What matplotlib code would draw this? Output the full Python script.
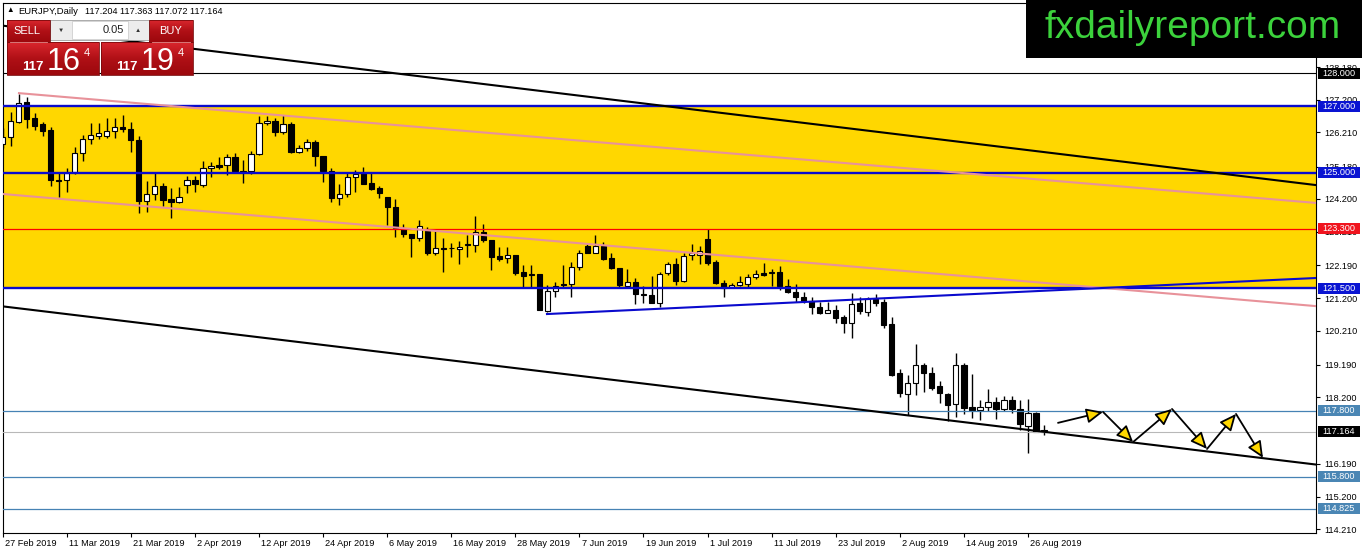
import matplotlib

matplotlib.use("Agg")
import matplotlib.pyplot as plt
import numpy as np
from matplotlib.colors import LinearSegmentedColormap
from matplotlib.patches import Rectangle
from matplotlib.transforms import ScaledTranslation, blended_transform_factory

plt.rcParams["font.family"] = ["Liberation Sans", "DejaVu Sans"]

# EURJPY daily candles, 27 Feb 2019 .. 28 Aug 2019
opens = [125.86, 126.07, 126.52, 127.12, 126.64, 126.46, 126.28, 124.77, 124.77, 125.01,
         125.58, 126.01, 126.10, 126.10, 126.25, 126.37, 126.31, 125.98, 124.13, 124.34,
         124.59, 124.19, 124.10, 124.62, 124.77, 124.62, 125.13, 125.22, 125.22, 125.46,
         125.04, 125.04, 125.55, 126.49, 126.55, 126.22, 126.46, 125.61, 125.73, 125.92,
         125.49, 125.04, 124.22, 124.34, 124.86, 124.98, 124.68, 124.53, 124.25, 123.95,
         123.32, 123.14, 123.02, 123.23, 122.56, 122.71, 122.71, 122.68, 122.80, 122.80,
         123.20, 122.95, 122.47, 122.41, 122.50, 121.99, 121.93, 121.93, 120.81, 121.41,
         121.63, 121.63, 122.14, 122.77, 122.56, 122.77, 122.41, 122.11, 121.57, 121.69,
         121.32, 121.29, 121.05, 121.96, 122.23, 121.72, 122.50, 122.50, 122.98, 122.29,
         121.66, 121.54, 121.60, 121.63, 121.84, 121.96, 121.96, 121.99, 121.57, 121.38,
         121.23, 121.11, 120.93, 120.75, 120.84, 120.63, 120.45, 121.05, 120.78, 121.17,
         121.08, 120.42, 118.94, 118.30, 118.63, 119.18, 118.94, 118.54, 118.30, 118.00,
         119.18, 117.91, 117.82, 117.91, 118.06, 117.85, 118.12, 117.85, 117.34, 117.73,
         117.204]
highs = [126.34, 126.82, 127.37, 127.27, 126.79, 126.52, 126.37, 124.98, 125.13, 125.76,
         126.13, 126.49, 126.49, 126.64, 126.64, 126.73, 126.52, 126.10, 124.74, 124.98,
         124.68, 124.53, 124.56, 124.89, 124.89, 125.34, 125.31, 125.46, 125.55, 125.58,
         125.37, 125.64, 126.70, 126.70, 126.64, 126.73, 126.52, 125.82, 126.01, 125.98,
         125.49, 125.13, 124.65, 125.01, 125.07, 125.16, 125.01, 124.59, 124.25, 124.19,
         123.44, 123.14, 123.56, 123.35, 123.23, 123.02, 122.86, 122.92, 123.11, 123.68,
         123.44, 122.95, 122.74, 122.74, 122.50, 122.20, 122.20, 121.93, 121.60, 121.69,
         122.20, 122.29, 122.65, 122.83, 123.11, 122.89, 122.56, 122.11, 122.08, 121.81,
         121.57, 121.87, 121.99, 122.29, 122.41, 122.56, 122.83, 122.77, 123.29, 122.35,
         121.75, 121.66, 121.87, 121.93, 122.05, 122.26, 122.08, 122.17, 121.78, 121.63,
         121.38, 121.23, 121.08, 121.08, 120.99, 120.69, 121.35, 121.23, 121.23, 121.32,
         121.17, 120.63, 119.06, 118.88, 119.81, 119.24, 119.12, 118.70, 118.33, 119.54,
         119.24, 118.91, 118.12, 118.45, 118.21, 118.24, 118.24, 118.12, 118.15, 117.76,
         117.363]
lows = [125.73, 125.80, 126.49, 126.34, 126.28, 126.10, 124.59, 124.25, 124.41, 124.95,
        125.34, 125.86, 126.01, 126.04, 126.04, 126.22, 125.61, 123.77, 123.80, 124.16,
        123.98, 123.62, 124.07, 124.38, 124.41, 124.56, 124.86, 125.10, 124.92, 125.04,
        124.68, 124.95, 125.52, 126.43, 126.10, 126.16, 125.58, 125.58, 125.64, 125.19,
        124.71, 124.10, 124.01, 124.25, 124.41, 124.65, 124.47, 124.22, 123.41, 123.05,
        123.05, 122.44, 122.92, 122.50, 122.50, 121.99, 122.44, 122.23, 122.44, 122.59,
        122.89, 122.05, 122.32, 122.26, 121.90, 121.53, 121.53, 120.84, 120.78, 121.23,
        121.53, 121.23, 122.05, 122.56, 122.56, 122.35, 122.08, 121.53, 121.53, 121.02,
        121.05, 121.05, 120.93, 121.90, 121.60, 121.69, 122.35, 122.23, 122.20, 121.63,
        121.23, 121.51, 121.57, 121.54, 121.78, 121.87, 121.57, 121.44, 121.35, 121.08,
        121.05, 120.72, 120.72, 120.75, 120.45, 120.15, 119.99, 120.72, 120.66, 120.96,
        120.30, 118.85, 118.21, 117.67, 118.27, 118.36, 118.42, 118.03, 117.49, 117.61,
        117.70, 117.58, 117.52, 117.79, 117.55, 117.79, 117.73, 117.22, 116.52, 117.15,
        117.072]
closes = [126.07, 126.55, 127.09, 126.61, 126.40, 126.25, 124.77, 124.74, 124.98, 125.58,
          126.01, 126.13, 126.19, 126.25, 126.37, 126.31, 125.98, 124.13, 124.34, 124.59,
          124.16, 124.10, 124.25, 124.77, 124.65, 125.13, 125.19, 125.16, 125.46, 125.04,
          125.02, 125.55, 126.49, 126.55, 126.22, 126.46, 125.61, 125.73, 125.92, 125.49,
          125.04, 124.22, 124.34, 124.86, 124.95, 124.65, 124.50, 124.38, 123.95, 123.32,
          123.14, 123.02, 123.38, 122.56, 122.71, 122.68, 122.71, 122.74, 122.83, 123.20,
          122.95, 122.44, 122.38, 122.50, 121.96, 121.87, 121.90, 120.84, 121.41, 121.57,
          121.60, 122.14, 122.56, 122.56, 122.77, 122.38, 122.11, 121.60, 121.69, 121.32,
          121.29, 121.05, 121.93, 122.23, 121.72, 122.47, 122.56, 122.62, 122.26, 121.66,
          121.50, 121.60, 121.69, 121.84, 121.93, 121.90, 121.99, 121.57, 121.38, 121.23,
          121.11, 120.93, 120.75, 120.84, 120.60, 120.45, 121.02, 120.81, 121.17, 121.05,
          120.39, 118.88, 118.33, 118.63, 119.18, 118.94, 118.48, 118.33, 117.97, 119.18,
          117.88, 117.82, 117.91, 118.06, 117.85, 118.12, 117.85, 117.40, 117.73, 117.15,
          117.164]

date_labels = ["27 Feb 2019", "11 Mar 2019", "21 Mar 2019", "2 Apr 2019", "12 Apr 2019",
               "24 Apr 2019", "6 May 2019", "16 May 2019", "28 May 2019", "7 Jun 2019",
               "19 Jun 2019", "1 Jul 2019", "11 Jul 2019", "23 Jul 2019", "2 Aug 2019",
               "14 Aug 2019", "26 Aug 2019"]
label_every = 8

price_ticks = [114.21, 115.20, 116.19, 118.20, 119.19, 120.21, 121.20, 122.19,
               123.21, 124.20, 125.18, 126.21, 127.20, 128.18]

# horizontal levels: (price, colour, width)
levels = [(128.000, "#000000", 0.8), (127.000, "#0A0ACD", 1.7), (125.000, "#0A0ACD", 1.7),
          (123.300, "#FF0000", 0.9), (121.500, "#0A0ACD", 1.7), (117.800, "#4682B4", 0.9),
          (115.800, "#4682B4", 0.9), (114.825, "#4682B4", 0.9), (117.164, "#B8B8B8", 0.8)]
level_boxes = [(128.000, "#000000"), (127.000, "#0A14D2"), (125.000, "#0A14D2"),
               (123.300, "#F0141E"), (121.500, "#0A14D2"), (117.800, "#4A86B4"),
               (117.164, "#000000"), (115.800, "#4A86B4"), (114.825, "#4A86B4")]
zone = (121.5, 127.0)

# trend lines as (bar, price) anchor pairs
black_upper = [(24.01, 128.735), (163.95, 124.62)]
black_lower = [(-0.34, 120.962), (159.46, 116.30)]
pink_upper = [(2.03, 127.40), (163.95, 124.08)]
pink_lower = [(0.04, 124.35), (163.95, 120.96)]
blue_support = [(67.95, 120.72), (163.95, 121.81)]

# projected zig-zag path
arrow_bars = [131.75, 137.37, 141.12, 145.98, 150.35, 153.97, 157.34]
arrow_prices = [117.43, 117.76, 116.85, 117.85, 116.64, 117.70, 116.37]

W, H = 1362, 554
fig = plt.figure(figsize=(W / 100, H / 100), dpi=100)
fig.patch.set_facecolor("white")
ax = fig.add_axes([2.7 / W, 21 / H, (1316 - 2.7) / W, (533 - 2.7) / H])
ax.set_xlim(0, (1316 - 2.7) / 8.01)
ax.set_ylim(114.099, 130.135)

x = np.arange(len(opens))
o = np.array(opens)
c = np.array(closes)

ax.axhspan(zone[0], zone[1], color="#FFD700", lw=0, zorder=0)

ax.vlines(x, lows, highs, color="black", lw=1.0, zorder=2.5)
ax.bar(x, np.maximum(np.abs(c - o), 0.015), bottom=np.minimum(o, c), width=0.65,
       color=np.where(c >= o, "white", "black"), edgecolor="black", linewidth=0.8,
       zorder=3)

for price, col, lw in levels:
    ax.axhline(price, color=col, lw=lw, zorder=4)

ax.axline(*black_upper, color="black", lw=1.5, zorder=4)
ax.axline(*black_lower, color="black", lw=1.5, zorder=4)
ax.axline(*pink_lower, color="#E8929A", lw=1.5, zorder=4)


def ray(anchors, **kw):
    (x1, y1), (x2, y2) = anchors
    slope = (y2 - y1) / (x2 - x1)
    x_end = 175
    ax.plot([x1, x_end], [y1, y1 + slope * (x_end - x1)], **kw)


ray(pink_upper, color="#E8929A", lw=1.5, zorder=4)
ray(blue_support, color="#0A0ACD", lw=1.5, zorder=4)

for i in range(len(arrow_bars) - 1):
    ax.annotate("", xy=(arrow_bars[i + 1], arrow_prices[i + 1]),
                xytext=(arrow_bars[i], arrow_prices[i]),
                arrowprops=dict(arrowstyle="-|>,head_length=10,head_width=4.5",
                                mutation_scale=1, fc="#FFD700", ec="black", lw=1.3,
                                shrinkA=0, shrinkB=0),
                zorder=6)

# axes styling
for sp in ax.spines.values():
    sp.set_color("black")
    sp.set_linewidth(0.8)
ax.yaxis.tick_right()
ax.set_yticks(price_ticks)
ax.set_yticklabels([f"{p:.3f}" for p in price_ticks])
ax.tick_params(axis="y", length=3, width=0.8, pad=3, labelsize=6.6)
ax.set_xticks(x[::label_every][:len(date_labels)])
ax.set_xticklabels(date_labels)
ax.tick_params(axis="x", length=3, width=0.8, pad=1.5, labelsize=6.6)
for lab in ax.get_xticklabels():
    lab.set_horizontalalignment("left")
    lab.set_transform(lab.get_transform() + ScaledTranslation(1.5 / 72, 0, fig.dpi_scale_trans))

# price boxes on the right scale
axw = (1316 - 2.7)
bt = blended_transform_factory(ax.transAxes, ax.transData)
half = 5.5 / 33.07
for price, col in level_boxes:
    ax.add_patch(Rectangle((1 + 1.5 / axw, price - half), 42 / axw, 2 * half,
                           transform=bt, clip_on=False, fc=col, ec="none", zorder=5))
    ax.text(1 + 6 / axw, price, f"{price:.3f}", transform=bt, color="white",
            fontsize=6.6, va="center", ha="left", clip_on=False, zorder=6)

# overlay in pixel coordinates: header, trade panel, logo
ov = fig.add_axes([0, 0, 1, 1])
ov.set_zorder(10)
ov.patch.set_alpha(0)
ov.axis("off")

ov.text(10, 11, "\u25B2", fontsize=5.5, va="center", ha="center", color="black")
ov.text(18, 11, "EURJPY,Daily", fontsize=6.8, va="center", ha="left", color="black")
ov.text(85, 11, "117.204 117.363 117.072 117.164", fontsize=6.6, va="center",
        ha="left", color="black")

red_cmap = LinearSegmentedColormap.from_list("btn", ["#D9262D", "#B01016", "#9C080D"])
grad = np.linspace(0, 1, 40).reshape(-1, 1)


def red_box(x0, y0, w, h):
    ov.imshow(grad, extent=(x0, x0 + w, y0 + h, y0), cmap=red_cmap, aspect="auto",
              zorder=2, interpolation="bilinear")
    ov.add_patch(Rectangle((x0, y0), w, h, fill=False, ec="#7A0A0C", lw=0.6, zorder=3))


red_box(7, 20, 43, 22)
red_box(149, 20, 44, 22)
red_box(7, 42, 92, 33)
red_box(101, 42, 92, 33)
ov.plot([10, 47], [42, 42], color="#E88A8A", lw=0.6, zorder=4)
ov.plot([152, 190], [42, 42], color="#E88A8A", lw=0.6, zorder=4)

ov.add_patch(Rectangle((50, 20), 99, 20, fc="#ECECEC", ec="#A0A0A0", lw=0.6, zorder=2))
ov.add_patch(Rectangle((72, 21), 56, 18, fc="white", ec="#C8C8C8", lw=0.5, zorder=3))
ov.text(61, 30, "\u25BC", fontsize=4.5, ha="center", va="center", color="#333333", zorder=4)
ov.text(138, 30, "\u25B2", fontsize=4.5, ha="center", va="center", color="#333333", zorder=4)
ov.text(124, 30, "0.05", fontsize=8, ha="right", va="center", color="#222222", zorder=4)

ov.text(27, 31, "SELL", fontsize=8, ha="center", va="center", color="white", zorder=4)
ov.text(171, 31, "BUY", fontsize=8, ha="center", va="center", color="white", zorder=4)
for bx, big in [(7, "16"), (101, "19")]:
    ov.text(bx + 26, 70, "117", fontsize=9.5, fontweight="bold", ha="center",
            va="baseline", color="white", zorder=4)
    ov.text(bx + 57, 70, big, fontsize=22, ha="center", va="baseline", color="white",
            zorder=4)
    ov.text(bx + 80, 56, "4", fontsize=8, ha="center", va="baseline", color="white",
            zorder=4)

ov.add_patch(Rectangle((1026, 0), 340, 58, fc="black", ec="none", zorder=2))
ov.text(1193, 37.5, "fxdailyreport.com", fontsize=28, ha="center", va="baseline",
        color="#3CD23C", zorder=3)

ov.set_xlim(0, W)
ov.set_ylim(H, 0)

fig.savefig("out.png", dpi=100)
